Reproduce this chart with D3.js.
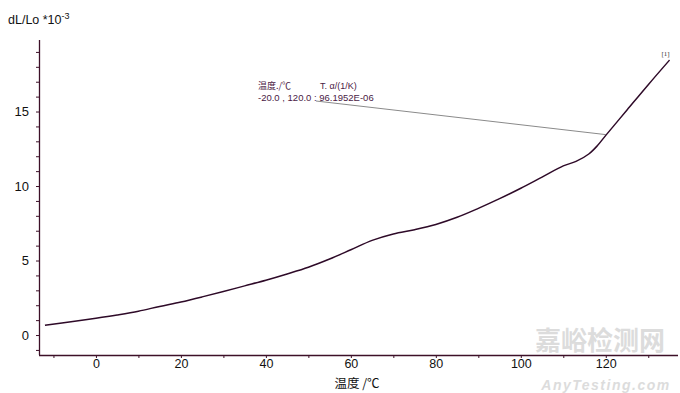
<!DOCTYPE html>
<html><head><meta charset="utf-8">
<script src="https://cdn.jsdelivr.net/npm/d3@7"></script>
<style>body{margin:0;background:#fff}svg{display:block}text{font-family:"Liberation Sans",Arial,sans-serif}</style>
</head><body><svg id="c" width="680" height="393"></svg>
<script>
const temps = [-12,-5,0,5,10,15,20,25,30,35,40,45,50,55,60,65,70,75,80,85,90,95,100,105,110,113,116,118,120,125,130,135];
const dl = [0.65,0.93,1.13,1.35,1.6,1.92,2.22,2.56,2.92,3.3,3.68,4.1,4.55,5.1,5.72,6.35,6.78,7.07,7.42,7.9,8.5,9.15,9.85,10.6,11.35,11.65,12.15,12.7,13.4,15.1,16.8,18.45];
const xTicks = [0,20,40,60,80,100,120];
const yTicks = [0,5,10,15];
const annoPoint = [120, 13.45];
const annoLines = ["-20.0 , 120.0 : 96.1952E-06"];

const svg = d3.select("#c");
const x = d3.scaleLinear().domain([-13.4,137]).range([39,678]);
const y = d3.scaleLinear().domain([-1.34,19.8]).range([355,40]);
const axisCol = "#3d1028";

// watermark
svg.append("text").attr("x",600).attr("y",350).attr("text-anchor","middle")
  .attr("font-size",26).attr("font-weight","bold").attr("fill","#dcdcdc")
  .style("font-family","'Noto Sans CJK SC',sans-serif").text("嘉峪检测网");
svg.append("text").attr("x",606).attr("y",390).attr("text-anchor","middle")
  .attr("font-size",14).attr("font-weight","bold").attr("font-style","italic").attr("fill","#dcdcdc")
  .attr("letter-spacing",1.5).text("AnyTesting.com");

// x axis
const xAxis = d3.axisBottom(x).tickValues(d3.range(-10,131,10)).tickSize(3).tickFormat(d=>xTicks.includes(d)?d:"");
const gx = svg.append("g").attr("transform","translate(0,355)").call(xAxis);
gx.select(".domain").attr("d","M39,0.5H678").attr("stroke",axisCol).attr("stroke-width",1.3);
gx.selectAll(".tick line").attr("stroke",axisCol);
gx.selectAll(".tick text").attr("font-size",12.5).attr("fill","#111").attr("y",4).attr("dy","0.71em")
  .style("font-family","'Liberation Sans',Arial,sans-serif");

// y axis
const yAxis = d3.axisLeft(y).tickValues(d3.range(-1,20,1)).tickSize(3).tickFormat(d=>yTicks.includes(d)?d:"");
const gy = svg.append("g").attr("transform","translate(39,0)").call(yAxis);
gy.select(".domain").attr("d","M0.5,40V355").attr("stroke",axisCol).attr("stroke-width",1.3);
gy.selectAll(".tick line").attr("stroke",axisCol);
gy.selectAll(".tick text").attr("font-size",13).attr("fill","#111").attr("x",-10)
  .style("font-family","'Liberation Sans',Arial,sans-serif");

// axis titles
const yt = svg.append("text").attr("x",8).attr("y",24).attr("font-size",12.5).attr("fill","#111");
yt.append("tspan").text("dL/Lo *10");
yt.append("tspan").attr("font-size",9).attr("dy",-5).text("-3");
svg.append("text").attr("x",357).attr("y",388).attr("text-anchor","middle").attr("font-size",12.5).attr("fill","#111")
  .style("font-family","'Noto Sans CJK SC',sans-serif").text("温度 /℃");

// annotation leader
svg.append("line").attr("x1",316).attr("y1",101).attr("x2",x(annoPoint[0])).attr("y2",y(annoPoint[1]))
  .attr("stroke","#8a8a8a").attr("stroke-width",1);
svg.append("text").attr("x",258).attr("y",89).attr("font-size",9).attr("fill","#4a1a44")
  .style("font-family","'Noto Sans CJK SC',sans-serif").text("温度./℃");
svg.append("text").attr("x",320).attr("y",89).attr("font-size",9).attr("fill","#4a1a44").text("T. α/(1/K)");
svg.append("text").attr("x",258).attr("y",100.5).attr("font-size",9.5).attr("fill","#4a1a44").text(annoLines[0]);

// curve
const line = d3.line().x((d,i)=>x(temps[i])).y(d=>y(d)).curve(d3.curveCatmullRom.alpha(0.5));
svg.append("path").datum(dl).attr("d",line).attr("fill","none").attr("stroke","#2e0a28").attr("stroke-width",1.5);
svg.append("text").attr("x",x(temps[temps.length-1])-8).attr("y",y(dl[dl.length-1])-4)
  .attr("font-size",7).attr("fill","#333").style("font-family","'Liberation Serif',serif").text("[1]");
</script></body></html>
